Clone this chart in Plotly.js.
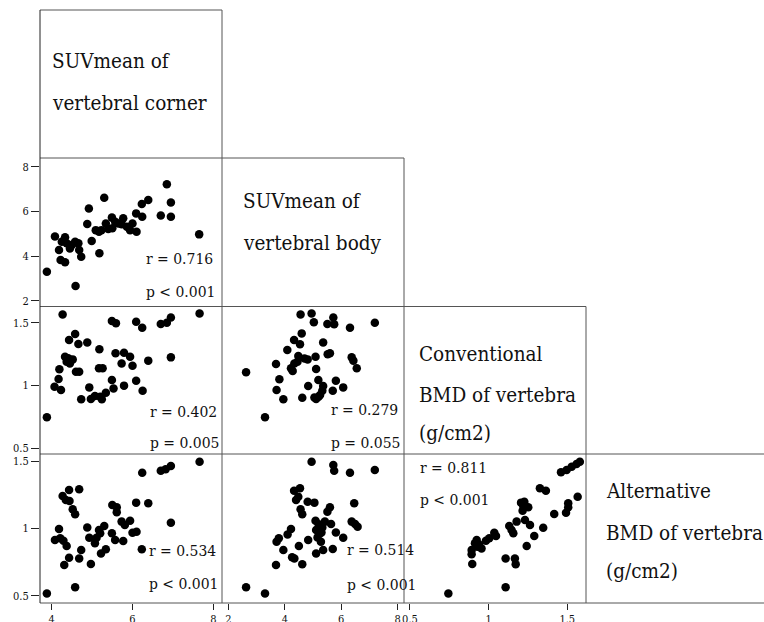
<!DOCTYPE html>
<html>
<head>
<meta charset="utf-8">
<script src="https://cdn.plot.ly/plotly-3.0.1.min.js"></script>
<style>html,body{margin:0;padding:0;background:#fff;}#chart{width:764px;height:622px;}</style>
</head>
<body>
<div id="chart"></div>
<script>
const varLabels = [
  ["SUVmean of", "vertebral corner"],
  ["SUVmean of", "vertebral body"],
  ["Conventional", "BMD of vertebra", "(g/cm2)"],
  ["Alternative", "BMD of vertebra", "(g/cm2)"]
];
const xTicks1 = [4, 6, 8];
const xTicks2 = [2, 4, 6, 8];
const xTicks3 = [0.5, 1, 1.5];
const yTicks2 = [2, 4, 6, 8];
const yTicks3 = [0.5, 1, 1.5];
const yTicks4 = [0.5, 1, 1.5];

const p21_x = [3.88,4.08,4.18,4.22,4.33,4.25,4.33,4.37,4.45,4.50,4.58,4.66,4.68,4.73,4.59,4.88,4.92,4.99,5.09,5.17,5.18,5.23,5.30,5.34,5.49,5.50,5.57,5.65,5.77,5.73,5.94,6.00,6.09,6.10,6.23,6.24,6.39,6.70,6.85,6.95,6.95,7.65,5.86,5.40];
const p21_y = [3.30,4.87,4.27,3.82,3.72,4.64,4.84,4.57,4.34,4.49,4.64,4.57,4.27,3.97,2.66,5.43,6.13,4.67,5.16,5.09,4.12,5.16,6.61,5.46,5.72,5.24,5.54,5.46,5.69,5.42,5.16,5.46,5.91,5.09,6.33,5.76,6.51,5.81,7.21,6.40,5.76,4.97,5.31,5.21];
const p21_r = ["r = 0.716", "p < 0.001"];

const p31_x = [3.88,4.27,4.07,4.17,4.23,4.19,4.33,4.37,4.41,4.45,4.52,4.43,4.58,4.66,4.60,4.68,4.73,4.88,4.93,4.97,5.07,5.18,5.17,5.26,5.20,5.24,5.34,5.49,5.53,5.49,5.59,5.58,5.73,5.79,5.79,5.94,6.00,6.09,6.09,6.24,6.25,6.39,6.70,6.85,6.95,6.95,7.66];
const p31_y = [0.747,1.566,0.990,1.052,0.964,1.129,1.229,1.190,1.216,1.176,1.208,1.362,1.410,1.330,1.110,1.110,0.890,1.343,0.985,0.893,0.916,1.288,1.137,1.137,0.910,0.890,0.943,1.044,0.977,1.513,1.495,1.256,1.176,1.261,0.999,1.229,1.158,1.508,1.038,1.460,0.959,1.198,1.489,1.500,1.542,1.224,1.574];
const p31_r = ["r = 0.402", "p = 0.005"];

const p32_x = [2.63,3.30,3.69,3.81,3.71,3.95,4.09,4.22,4.28,4.34,4.33,4.54,4.60,4.48,4.56,4.95,5.03,4.62,4.83,4.81,5.09,5.11,5.19,5.11,5.25,5.33,5.36,5.36,5.60,5.52,5.51,5.72,5.75,5.70,5.81,6.07,6.31,6.37,6.43,6.55,7.19,4.45,4.70,5.20,5.05];
const p32_y = [1.105,0.747,1.171,1.049,0.964,0.890,1.282,1.137,1.115,1.176,1.362,1.328,1.415,1.235,1.566,1.574,1.503,0.903,0.996,1.208,1.229,1.131,1.044,0.893,0.924,0.959,0.996,1.343,1.256,1.248,1.489,1.542,1.487,0.959,1.038,0.985,1.460,1.224,1.198,1.137,1.500,1.190,1.215,0.910,0.905];
const p32_r = ["r = 0.279", "p = 0.055"];

const p41_x = [3.88,4.08,4.18,4.21,4.29,4.37,4.31,4.43,4.27,4.35,4.43,4.44,4.52,4.58,4.58,4.68,4.68,4.73,4.88,4.93,4.97,5.07,5.11,5.17,5.20,5.22,5.30,5.34,5.49,5.50,5.57,5.61,5.61,5.77,5.73,5.81,5.94,6.00,6.09,6.10,6.23,6.24,6.39,6.70,6.82,6.95,6.95,7.66];
const p41_y = [0.517,0.913,0.995,0.926,0.908,0.869,0.728,0.782,1.240,1.210,1.285,1.203,1.141,1.104,0.562,1.290,0.777,0.839,1.007,0.930,0.735,0.889,0.930,0.988,0.963,0.814,1.017,0.844,0.963,1.173,0.913,1.156,1.119,0.906,1.050,1.025,1.057,0.968,1.191,0.975,0.844,1.413,1.186,1.428,1.438,1.463,1.042,1.495];
const p41_r = ["r = 0.534", "p < 0.001"];

const p42_x = [2.63,3.30,3.69,3.71,3.79,3.95,4.10,4.22,4.26,4.34,4.50,4.62,4.33,4.54,4.40,4.48,4.56,4.62,4.81,5.05,4.83,5.09,5.11,5.11,5.16,5.25,5.28,5.33,5.36,5.42,5.51,5.60,5.64,5.70,5.81,6.07,4.95,5.72,5.75,6.31,7.19,6.46,6.37,6.49,6.58,5.30,5.20];
const p42_y = [0.562,0.517,0.728,0.901,0.926,0.839,0.955,0.995,0.785,0.777,0.869,0.733,1.280,1.297,1.210,1.235,1.141,1.104,1.198,1.191,0.913,1.057,0.988,0.814,0.933,0.963,0.901,1.007,0.839,1.050,1.124,1.156,1.032,0.847,0.970,0.930,1.495,1.470,1.428,1.413,1.433,1.186,1.050,1.032,1.012,0.970,1.030];
const p42_r = ["r = 0.514", "p < 0.001"];

const p43_x = [0.744,1.108,0.896,0.892,0.892,0.924,0.929,0.955,0.983,1.004,1.036,1.047,1.108,1.167,1.172,1.131,1.146,1.157,1.178,1.231,1.263,1.242,1.290,1.347,1.206,1.220,1.252,1.216,1.227,1.326,1.364,1.417,1.492,1.506,1.566,1.460,1.496,1.528,1.559,1.580,1.506,0.913,0.940];
const p43_y = [0.517,0.562,0.735,0.807,0.839,0.913,0.864,0.851,0.908,0.926,0.968,0.943,0.777,0.777,0.733,1.017,0.988,0.963,1.050,1.062,1.025,0.869,0.943,1.005,1.191,1.166,1.156,1.131,1.198,1.297,1.280,1.106,1.116,1.186,1.235,1.416,1.433,1.458,1.478,1.495,1.156,0.889,0.880];
const p43_r = ["r = 0.811", "p < 0.001"];

const W = 764, H = 622;
const colEdges = [40, 222, 404, 586, 764];
const rowEdges = [10, 158, 306.5, 454, 603];
const px = v => v / W;
const py = v => 1 - v / H;

const lineColor = '#555555';
const axisColor = '#222222';
const serif = 'DejaVu Serif Condensed, DejaVu Serif';

function mk(x, y, xa, ya) {
  return {x: x, y: y, xaxis: xa, yaxis: ya, type: 'scatter', mode: 'markers',
    marker: {color: '#000', size: 8.5}, hoverinfo: 'x+y', showlegend: false};
}
const data = [
  mk(p21_x, p21_y, 'x', 'y'),
  mk(p31_x, p31_y, 'x', 'y2'),
  mk(p32_x, p32_y, 'x2', 'y2'),
  mk(p41_x, p41_y, 'x', 'y3'),
  mk(p42_x, p42_y, 'x2', 'y3'),
  mk(p43_x, p43_y, 'x3', 'y3')
];

const tickFont = {family: serif, size: 11, color: '#111'};
function xax(dom, range, tv) {
  return {domain: dom, range: range, tickvals: tv, anchor: 'y3', showgrid: false, zeroline: false,
    showline: false, ticks: 'outside', ticklen: 6, tickcolor: axisColor, tickwidth: 1, tickfont: tickFont};
}
function yax(dom, range, tv) {
  return {domain: dom, range: range, tickvals: tv, anchor: 'x', showgrid: false, zeroline: false,
    showline: false, ticks: 'outside', ticklen: 8, tickcolor: axisColor, tickwidth: 1, tickfont: tickFont};
}

const shapes = [];
function hline(y, x0, x1, c) {
  shapes.push({type: 'line', xref: 'paper', yref: 'paper', x0: px(x0), x1: px(x1), y0: py(y), y1: py(y),
    line: {color: c || lineColor, width: 1}});
}
function vline(x, y0, y1, c) {
  shapes.push({type: 'line', xref: 'paper', yref: 'paper', x0: px(x), x1: px(x), y0: py(y0), y1: py(y1),
    line: {color: c || lineColor, width: 1}});
}
hline(rowEdges[0], colEdges[0], colEdges[1]);
hline(rowEdges[1], colEdges[0], colEdges[2]);
hline(rowEdges[2], colEdges[0], colEdges[3]);
hline(rowEdges[3], colEdges[0], colEdges[4]);
hline(rowEdges[4], colEdges[0], colEdges[4]);
vline(colEdges[0], rowEdges[0], rowEdges[4], axisColor);
vline(colEdges[1], rowEdges[0], rowEdges[4]);
vline(colEdges[2], rowEdges[1], rowEdges[4]);
vline(colEdges[3], rowEdges[2], rowEdges[4]);

const annotations = [];
function txt(t, xPix, yPix, size) {
  annotations.push({text: t, xref: 'paper', yref: 'paper', x: px(xPix), y: py(yPix),
    xanchor: 'left', yanchor: 'middle', showarrow: false,
    font: {family: serif, size: size, color: '#111'}});
}
const diagPos = [
  [50, [68, 110]],
  [240.5, [208, 250]],
  [416.5, [361, 401.5, 440]],
  [604, [498, 540, 578]]
];
varLabels.forEach((lines, i) => {
  lines.forEach((l, j) => txt(l, diagPos[i][0], diagPos[i][1][j] - 7, 20.5));
});
function rp(lbl, xl, yr, yp) { txt(lbl[0], xl, yr, 15.5); txt(lbl[1], xl, yp, 15.5); }
rp(p21_r, 143.5, 259, 292);
rp(p31_r, 147.5, 411.5, 443);
rp(p32_r, 329, 410, 443);
rp(p41_r, 147, 550.5, 584);
rp(p42_r, 345, 550, 585);
rp(p43_r, 417.5, 468, 500);

const layout = {
  width: W, height: H,
  margin: {l: 0, r: 0, t: 0, b: 0},
  paper_bgcolor: '#fff', plot_bgcolor: 'rgba(0,0,0,0)',
  showlegend: false,
  font: {family: serif},
  xaxis: xax([px(colEdges[0]), px(colEdges[1])], [3.71, 8.215], xTicks1),
  xaxis2: xax([px(colEdges[1]), px(colEdges[2])], [1.777, 8.223], xTicks2),
  xaxis3: xax([px(colEdges[2]), px(colEdges[3])], [0.462, 1.619], xTicks3),
  yaxis: yax([py(rowEdges[2]), py(rowEdges[1])], [1.74, 8.39], yTicks2),
  yaxis2: yax([py(rowEdges[3]), py(rowEdges[2])], [0.4546, 1.629], yTicks3),
  yaxis3: yax([py(rowEdges[4]), py(rowEdges[3])], [0.4458, 1.552], yTicks4),
  shapes: shapes,
  annotations: annotations
};
Plotly.newPlot('chart', data, layout, {displayModeBar: false, staticPlot: true});
</script>
</body>
</html>
